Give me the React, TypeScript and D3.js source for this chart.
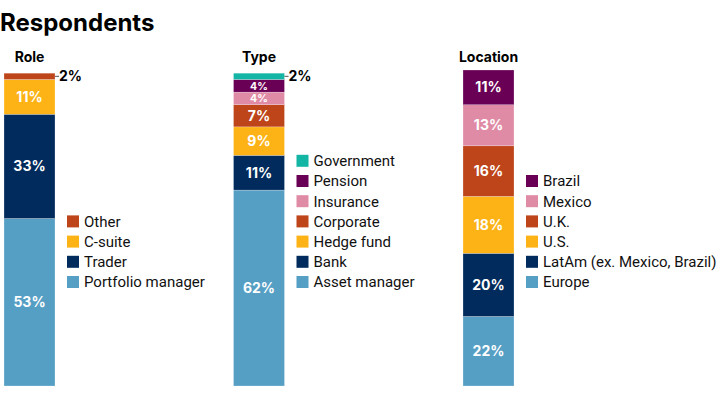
import React from "react";
import * as d3 from "d3";

const panels = ["Role", "Type", "Location"];

const roleCats = ["Portfolio manager", "Trader", "C-suite", "Other"];
const roleVals = [53, 33, 11, 2];

const typeCats = ["Asset manager", "Bank", "Hedge fund", "Corporate", "Insurance", "Pension", "Government"];
const typeVals = [62, 11, 9, 7, 4, 4, 2];

const locCats = ["Europe", "LatAm (ex. Mexico, Brazil)", "U.S.", "U.K.", "Mexico", "Brazil"];
const locVals = [22, 20, 18, 16, 13, 11];

const roleColors = ["#559ec4", "#002b5c", "#fdb316", "#be451a"];
const typeColors = ["#559ec4", "#002b5c", "#fdb316", "#be451a", "#e08ba6", "#6a0055", "#13b5a4"];
const locColors = ["#559ec4", "#002b5c", "#fdb316", "#be451a", "#e08ba6", "#6a0055"];

const W = 720;
const H = 399;
const FONT = "Roboto, 'Liberation Sans', sans-serif";
const BOLD = "Inter, Roboto, sans-serif";

const App = () => {
  const x = d3.scaleBand<string>()
    .domain(panels)
    .range([4, 514])
    .paddingInner(1 - 51 / 229.5)
    .paddingOuter(0);

  const y = d3.scaleLinear().domain([0, 100]).range([386, 70]);

  const groups = [
    { name: "Role", cats: roleCats, vals: roleVals, colors: roleColors },
    { name: "Type", cats: typeCats, vals: typeVals, colors: typeColors },
    { name: "Location", cats: locCats, vals: locVals, colors: locColors },
  ];

  return (
    <svg width={W} height={H} style={{ display: "block", position: "absolute", left: 0, top: 0 }} fontFamily={FONT}>
      <rect width={W} height={H} fill="#fff" />
      <text x={0} y={31} fontSize={24} fontWeight={700} fontFamily={BOLD} fill="#000">Respondents</text>
      {groups.map((g) => {
        const bx = x(g.name) as number;
        const bw = x.bandwidth();
        const cum = d3.cumsum(g.vals);
        return (
          <g key={g.name}>
            <text x={bx + bw / 2} y={62} textAnchor="middle" fontSize={14} fontWeight={700} fontFamily={BOLD} fill="#000">{g.name}</text>
            {g.vals.map((v, i) => {
              const y0 = y(cum[i] - v);
              const y1 = y(cum[i]);
              const small = v <= 2;
              return (
                <g key={i}>
                  <rect x={bx} y={y1} width={bw} height={y0 - y1} fill={g.colors[i]} stroke="#fff" strokeWidth={0.4} strokeOpacity={0.6} />
                  {small ? (
                    <g>
                      <line x1={bx + bw} x2={bx + bw + 4} y1={(y0 + y1) / 2} y2={(y0 + y1) / 2} stroke="#555" strokeWidth={1} />
                      <text x={bx + bw + 4} y={(y0 + y1) / 2} dy="0.36em" fontSize={14} fontWeight={700} fontFamily={BOLD} fill="#000">{v}%</text>
                    </g>
                  ) : (
                    <text x={bx + bw / 2} y={(y0 + y1) / 2} dy="0.36em" textAnchor="middle" fontSize={v < 5 ? 10.5 : 14} fontWeight={700} fontFamily={BOLD} fill="#fff">{v}%</text>
                  )}
                </g>
              );
            })}
            {g.cats.map((c, i) => {
              const cy = 282 - i * 20.2;
              return (
                <g key={c}>
                  <rect x={bx + 63} y={cy - 6} width={12} height={12} fill={g.colors[i]} />
                  <text x={bx + 80} y={cy} dy="0.36em" fontSize={15} fill="#111">{c}</text>
                </g>
              );
            })}
          </g>
        );
      })}
    </svg>
  );
};

export default App;
